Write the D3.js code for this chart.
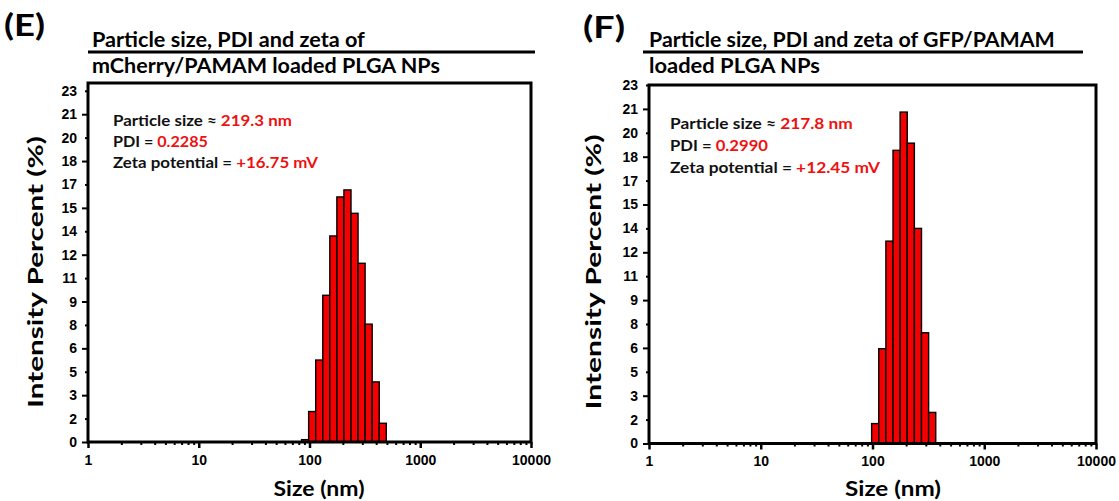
<!DOCTYPE html>
<html><head><meta charset="utf-8">
<script src="https://cdn.jsdelivr.net/npm/d3@7"></script>
<style>body{margin:0;background:#fff} svg{display:block}</style>
</head><body>
<svg id="chart" width="1119" height="501"></svg>
<script>
// ---- data ----
const binRatio = 1.1581; // Malvern size-class ratio
const sizesE = [91.28, 105.7, 122.4, 141.8, 164.2, 190.1, 220.2, 255.0, 295.3, 342.0, 396.1, 458.7];
const intensityE = [0.15, 1.95, 5.25, 9.4, 13.2, 15.7, 16.15, 14.65, 11.45, 7.55, 3.85, 1.2];
const sizesF = [105.7, 122.4, 141.8, 164.2, 190.1, 220.2, 255.0, 295.3, 342.0];
const intensityF = [1.25, 5.95, 12.7, 18.4, 20.8, 18.85, 13.5, 6.95, 1.95];
const xTicks = [1, 10, 100, 1000, 10000];
const yTickValues = [0, 1.5, 3, 4.5, 6, 7.5, 9, 10.5, 12, 13.5, 15, 16.5, 18, 19.5, 21, 22.5];
const yTickLabels = ["0","2","3","5","6","8","9","11","12","14","15","17","18","20","21","23"];
const titleE = ["Particle size, PDI and zeta of", "mCherry/PAMAM loaded PLGA NPs"];
const titleF = ["Particle size, PDI and zeta of GFP/PAMAM", "loaded PLGA NPs"];
const annotLabels = ["Particle size \u2248 ", "PDI = ", "Zeta potential = "];
const annotE = ["219.3 nm", "0.2285", "+16.75 mV"];
const annotF = ["217.8 nm", "0.2990", "+12.45 mV"];
const xLabel = "Size (nm)";
const yLabel = "Intensity Percent (%)";

// ---- drawing ----
const svg = d3.select("#chart");
const CAL = "Lato, 'Open Sans', sans-serif";
const ARI = "'Liberation Sans', Arial, sans-serif";
const RED = "#ee1111";

function fit(t, x, y, w, rot) {
  const n = t.node().getComputedTextLength();
  const sx = w / n;
  t.attr("transform", `translate(${x},${y})${rot ? " rotate(-90)" : ""} scale(${sx},1)`);
}

function drawPanel(p) {
  const x = d3.scaleLog().domain([1, 10000]).range(p.xRange);
  const y = d3.scaleLinear().domain([0, p.yMax]).range(p.yRange);
  const g = svg.append("g");
  const half = Math.sqrt(binRatio);
  const data = p.sizes.map((s, i) => ({ s, v: p.values[i] }));

  g.selectAll("rect.bar").data(data).join("rect").attr("class", "bar")
    .attr("x", d => x(d.s / half)).attr("width", d => x(d.s * half) - x(d.s / half))
    .attr("y", d => y(d.v)).attr("height", d => y(0) - y(d.v))
    .attr("fill", "#f40000").attr("stroke", "#000").attr("stroke-width", 1.4);

  // y axis
  const ya = g.append("g").attr("transform", `translate(${p.xRange[0]},0)`)
    .call(d3.axisLeft(y).tickValues(yTickValues).tickFormat((d, i) => yTickLabels[i]).tickSizeInner(6).tickSizeOuter(0).tickPadding(5));
  ya.select(".domain").remove();
  ya.selectAll(".tick line").attr("stroke-width", 2).attr("x2", (d, i) => i % 2 ? -3 : -6);
  ya.selectAll(".tick text").attr("font-family", ARI).attr("font-weight", "bold").attr("font-size", 14).attr("fill", "#000");

  // x axis
  const xa = g.append("g").attr("transform", `translate(0,${p.yRange[0]})`)
    .call(d3.axisBottom(x).tickValues(xTicks).tickFormat(d3.format("d")).tickSizeInner(6).tickSizeOuter(0).tickPadding(7));
  xa.select(".domain").remove();
  xa.selectAll(".tick line").attr("stroke-width", 2.5);
  xa.selectAll(".tick text").attr("font-family", ARI).attr("font-weight", "bold").attr("font-size", 14).attr("fill", "#000");
  const minor = [];
  for (let dec = 1; dec < 10000; dec *= 10) for (let k = 2; k < 10; k++) minor.push(dec * k);
  const xm = g.append("g").attr("transform", `translate(0,${p.yRange[0]})`)
    .call(d3.axisBottom(x).tickValues(minor).tickFormat("").tickSizeInner(3).tickSizeOuter(0));
  xm.select(".domain").remove();
  xm.selectAll(".tick line").attr("stroke-width", 2);

  // frame
  g.append("rect").attr("x", p.xRange[0]).attr("y", p.yRange[1])
    .attr("width", p.xRange[1] - p.xRange[0]).attr("height", p.yRange[0] - p.yRange[1])
    .attr("fill", "none").attr("stroke", "#000").attr("stroke-width", 3);

  // panel letter
  const L = g.append("text").text(p.letter).attr("font-family", CAL).attr("font-weight", "bold").attr("font-size", 30);
  fit(L, p.letterPos[0], p.letterPos[1], p.letterW);

  // title
  p.title.forEach((line, i) => {
    const t = g.append("text").text(line).attr("font-family", CAL).attr("font-weight", "bold").attr("font-size", 20);
    fit(t, p.titleX, p.titleY[i], p.titleW[i]);
  });
  g.append("line").attr("x1", p.rule[0]).attr("x2", p.rule[1]).attr("y1", p.rule[2]).attr("y2", p.rule[2])
    .attr("stroke", "#000").attr("stroke-width", 3);

  // annotations
  annotLabels.forEach((lab, i) => {
    const t = g.append("text").attr("font-family", CAL).attr("font-weight", "bold").attr("font-size", 16);
    t.append("tspan").text(lab).attr("fill", "#111");
    t.append("tspan").text(p.annot[i]).attr("fill", RED);
    fit(t, p.annotX, p.annotY[i], p.annotW[i]);
  });

  // axis titles
  const xl = g.append("text").text(xLabel).attr("font-family", CAL).attr("font-weight", "bold").attr("font-size", 21).attr("text-anchor", "middle");
  fit(xl, p.xLab[0], p.xLab[1], p.xLab[2]);
  const yl = g.append("text").text(yLabel).attr("font-family", CAL).attr("font-weight", "bold").attr("font-size", 20).attr("text-anchor", "middle");
  fit(yl, p.yLab[0], p.yLab[1], p.yLab[2], true);
}

drawPanel({
  letter: "(E)", letterPos: [4, 36], letterW: 41,
  title: titleE, titleX: 92, titleY: [47, 73], titleW: [273, 348], rule: [88, 535, 52],
  sizes: sizesE, values: intensityE, annot: annotE,
  annotX: 113, annotY: [126, 147, 168], annotW: [179, 95, 205],
  xRange: [88, 531], yRange: [442, 83], yMax: 23,
  xLab: [319, 496, 91], yLab: [43, 272, 272]
});
drawPanel({
  letter: "(F)", letterPos: [583, 38], letterW: 42,
  title: titleF, titleX: 649, titleY: [47, 73], titleW: [406, 171], rule: [643, 1083, 52],
  sizes: sizesF, values: intensityF, annot: annotF,
  annotX: 670, annotY: [129, 151, 173], annotW: [183, 98, 210],
  xRange: [649, 1096], yRange: [443.5, 85], yMax: 22.5,
  xLab: [893, 496, 96], yLab: [601, 272, 275]
});
</script>
</body></html>
